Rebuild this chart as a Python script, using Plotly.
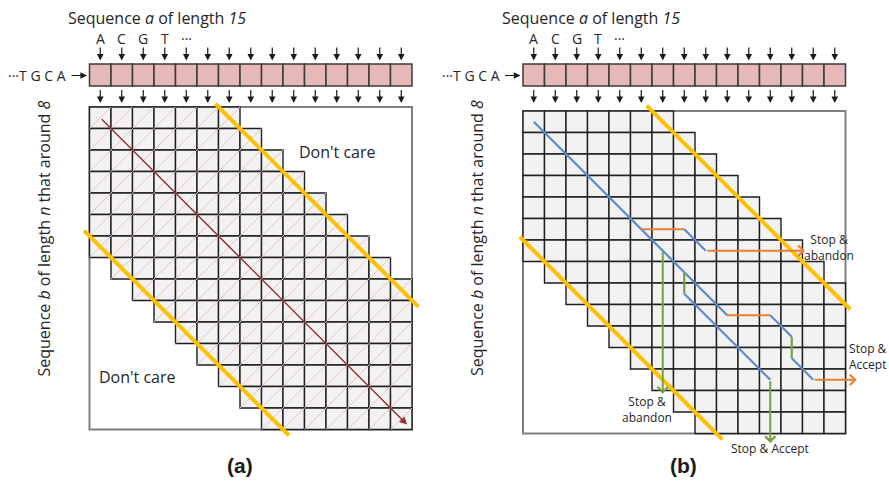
import plotly.graph_objects as go

# ---------------- data ----------------
N_COLS = 15            # length of sequence a
N_ROWS = 15            # rows of sequence b
BAND = 6               # band half-width |i-j| <= BAND
TOP_LETTERS = ["A", "C", "G", "T", "···"]
LEFT_SEQ = "···T G C A"

# panel (a): main diagonal arrow (grid units)
DIAG_X = [0.5, 14.77]
DIAG_Y = [0.5, 14.77]

# yellow band limits (start/end along the free coordinate)
YEL_UP_Y = {"a": [-0.15, 9.3], "b": [-0.25, 9.22]}
YEL_LO_X = {"a": [-0.25, 9.28], "b": [-0.15, 9.27]}

# panel (b): alignment paths (cell centres, grid units); last segment has an arrow
PATHS = [
    dict(x=[0.5, 7.5], y=[0.5, 7.5], arrow=False),
    dict(x=[5.5, 7.5, 8.5, 13.12], y=[5.5, 5.5, 6.5, 6.5], arrow=True),
    dict(x=[6.5, 6.5], y=[6.5, 13.15], arrow=True),
    dict(x=[7.5, 9.5, 11.5, 12.5, 12.5, 13.5, 15.52], y=[7.5, 9.5, 9.5, 10.5, 11.5, 12.5, 12.5], arrow=True),
    dict(x=[7.5, 7.5, 11.5, 11.5], y=[7.5, 8.5, 12.5, 15.44], arrow=True),
]
STOP_LABELS = [
    dict(text="Stop &amp;<br>abandon", x=14.23, y=6.33),
    dict(text="Stop &amp;<br>Accept", x=16.05, y=11.44),
    dict(text="Stop &amp;<br>abandon", x=5.77, y=13.9),
    dict(text="Stop &amp; Accept", x=11.49, y=15.72),
]

# ---------------- style ----------------
W, H = 889, 481
S = 21.5
FONT = "Open Sans"
TXT = "#262626"
PINK = "#E6B8B7"
CELL = "#F2F2F2"
GRIDC = "#1f1f1f"
OUTER = "#7F7F7F"
YELLOW = "#FFC000"
BLUE = "#5B8BCF"
ORANGE = "#ED7D31"
GREEN = "#77A043"
DARKRED = "#943634"
HATCH = "#EFC2BF"

PANELS = [
    dict(name="a", xo=89.5, yo=107.0, xr="x", yr="y", dom=[0.0, 0.5], label_x=240, axl="xaxis", ayl="yaxis"),
    dict(name="b", xo=523.0, yo=111.0, xr="x2", yr="y2", dom=[0.5, 1.0], label_x=683.5, axl="xaxis2", ayl="yaxis2"),
]

fig = go.Figure()
shapes = []
annotations = []


def gx(p, pix):
    return (pix - p["xo"]) / S


def gy(p, pix):
    return (pix - p["yo"]) / S


def arrow(p, x0, y0, x1, y1, color, width, head, size=1.0):
    annotations.append(dict(
        x=x1, y=y1, ax=x0, ay=y0, xref=p["xr"], yref=p["yr"], axref=p["xr"], ayref=p["yr"],
        text="", showarrow=True, arrowhead=head, arrowsize=size, arrowwidth=width,
        arrowcolor=color, standoff=0, startstandoff=0))


def text(p, x, y, t, size, xanchor="center", bold=False, angle=0, family=FONT):
    annotations.append(dict(
        x=x, y=y, xref=p["xr"], yref=p["yr"], text=t, showarrow=False,
        xanchor=xanchor, yanchor="middle", textangle=angle,
        font=dict(family=family, size=size, color=TXT if not bold else "#1a1a1a")))


for p in PANELS:
    xr, yr = p["xr"], p["yr"]
    # outer box
    shapes.append(dict(type="rect", xref=xr, yref=yr, x0=0, x1=N_COLS, y0=0, y1=N_ROWS,
                       fillcolor="white", line=dict(color=OUTER, width=2), layer="below"))
    # band cells
    hx, hy = [], []
    for i in range(N_ROWS):
        for j in range(N_COLS):
            if abs(i - j) <= BAND:
                shapes.append(dict(type="rect", xref=xr, yref=yr, x0=j, x1=j + 1, y0=i, y1=i + 1,
                                   fillcolor=CELL, line=dict(color=GRIDC, width=1.4), layer="below"))
                hx += [j, j + 1, None]
                hy += [i + 1, i, None]
    if p["name"] == "a":
        fig.add_trace(go.Scatter(x=hx, y=hy, xaxis=xr, yaxis=yr, mode="lines",
                                 line=dict(color=HATCH, width=1), hoverinfo="skip", showlegend=False))

    # header: pink cells of sequence a
    py0, py1 = gy(p, 64), gy(p, 86)
    for j in range(N_COLS):
        shapes.append(dict(type="rect", xref=xr, yref=yr, x0=j, x1=j + 1, y0=py0, y1=py1,
                           fillcolor=PINK, line=dict(color="#3a3a3a", width=1.5), layer="below"))
        arrow(p, j + 0.5, gy(p, 46), j + 0.5, gy(p, 60.5), "#1a1a1a", 1.2, 2, 1.1)
        arrow(p, j + 0.5, gy(p, 88.5), j + 0.5, gy(p, 103), "#1a1a1a", 1.2, 2, 1.1)
    for j, L in enumerate(TOP_LETTERS):
        text(p, j + 0.5, gy(p, 38), L, 14)
    text(p, gx(p, p["xo"] - 21.5), gy(p, 75.5), LEFT_SEQ, 14, xanchor="right")
    arrow(p, gx(p, p["xo"] - 19.5), gy(p, 75.5), gx(p, p["xo"] - 2.5), gy(p, 75.5), "#1a1a1a", 1.2, 2, 1.1)
    text(p, gx(p, p["xo"] + 67.5), gy(p, 18), "Sequence <i>a</i> of length <i>15</i>", 16)
    # y label
    text(p, gx(p, p["xo"] - 46.5), gy(p, 238.5), "Sequence <i>b</i> of length <i>n</i> that around <i>8</i>", 16, angle=-90)
    # panel label
    text(p, gx(p, p["label_x"]), gy(p, 465), "<b>(%s)</b>" % p["name"], 21, bold=True, family="Liberation Sans")

    # yellow band limit lines
    uy = YEL_UP_Y[p["name"]]
    lx = YEL_LO_X[p["name"]]
    fig.add_trace(go.Scatter(x=[v + BAND for v in uy], y=uy, xaxis=xr, yaxis=yr, mode="lines",
                             line=dict(color=YELLOW, width=4), hoverinfo="skip", showlegend=False))
    fig.add_trace(go.Scatter(x=lx, y=[v + BAND for v in lx], xaxis=xr, yaxis=yr, mode="lines",
                             line=dict(color=YELLOW, width=4), hoverinfo="skip", showlegend=False))

    if p["name"] == "a":
        arrow(p, DIAG_X[0], DIAG_Y[0], DIAG_X[1], DIAG_Y[1], DARKRED, 1.5, 2, 1.0)
        text(p, gx(p, 337), gy(p, 152), "Don't care", 16)
        text(p, gx(p, 137), gy(p, 377), "Don't care", 16)
    else:
        for path in PATHS:
            xs, ys = path["x"], path["y"]
            n = len(xs)
            for k in range(n - 1):
                dx, dy = xs[k + 1] - xs[k], ys[k + 1] - ys[k]
                if abs(dx) > 1e-9 and abs(dy) > 1e-9:
                    c = BLUE
                elif abs(dy) < 1e-9:
                    c = ORANGE
                else:
                    c = GREEN
                if path["arrow"] and k == n - 2:
                    arrow(p, xs[k], ys[k], xs[k + 1], ys[k + 1], c, 2, 4, 1.0)
                else:
                    fig.add_trace(go.Scatter(x=[xs[k], xs[k + 1]], y=[ys[k], ys[k + 1]], xaxis=xr, yaxis=yr,
                                             mode="lines", line=dict(color=c, width=2.2),
                                             hoverinfo="skip", showlegend=False))
        for lab in STOP_LABELS:
            text(p, lab["x"], lab["y"], lab["text"], 12)

layout = dict(width=W, height=H, margin=dict(l=0, r=0, t=0, b=0), autosize=False,
              plot_bgcolor="white", paper_bgcolor="white", showlegend=False,
              shapes=shapes, annotations=annotations)
for p in PANELS:
    d0, d1 = p["dom"]
    layout[p["axl"]] = dict(domain=[d0, d1], range=[(d0 * W - p["xo"]) / S, (d1 * W - p["xo"]) / S],
                            visible=False, fixedrange=True, anchor=p["yr"])
    layout[p["ayl"]] = dict(domain=[0, 1], range=[(H - p["yo"]) / S, (0 - p["yo"]) / S],
                            visible=False, fixedrange=True, anchor=p["xr"])
fig.update_layout(**layout)
fig.write_html("out.html", config={"displayModeBar": False},
               post_script="document.body.style.margin='0';document.body.style.padding='0';"
                           "document.body.style.overflow='hidden';")
